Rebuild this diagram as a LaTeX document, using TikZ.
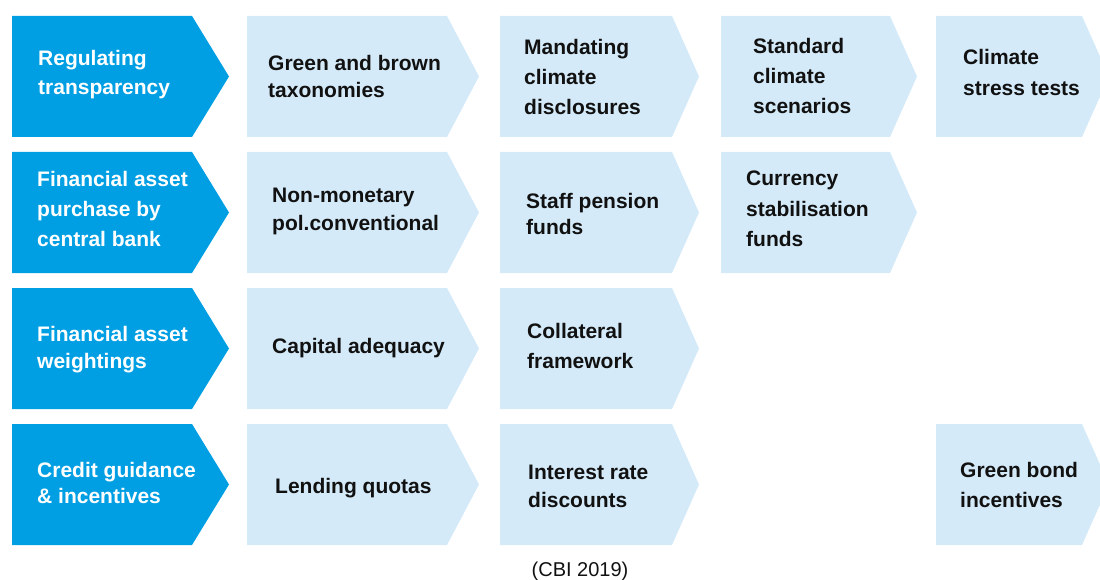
\documentclass[tikz,border=0pt]{standalone}
\usepackage{fontspec}
\setmainfont{Liberation Sans}
\definecolor{dk}{HTML}{009FE3}
\definecolor{lt}{HTML}{D4EAF9}
\definecolor{ink}{HTML}{111111}
\newcommand\lbl[2]{\fontsize{21}{#1}\selectfont\begin{tabular}[t]{@{}l@{}}#2\end{tabular}}
% #1 left x, #2 top y, #3 point start x, #4 tip x, #5 style
\newcommand\chev[5]{\fill[#5] (#1,#2) -- (#3,#2) -- (#4,{#2+60.5}) -- (#3,{#2+121}) -- (#1,{#2+121}) -- cycle;}
\begin{document}
\begin{tikzpicture}[x=1pt,y=-1pt,
  darkbox/.style={fill=dk},
  lightbox/.style={fill=lt},
  headtxt/.style={anchor=base west, inner sep=0pt, text=white, font=\bfseries},
  itemtxt/.style={anchor=base west, inner sep=0pt, text=ink, font=\bfseries},
  srctxt/.style={anchor=base, inner sep=0pt, text=ink, font=\fontsize{20}{24}\selectfont}]
\useasboundingbox (0,0) rectangle (1100,580);
\begin{scope}
\clip (0,0) rectangle (1100,580);
% row 1
\chev{12}{16}{192}{229}{darkbox}
\chev{247}{16}{447}{479}{lightbox}
\chev{500}{16}{672}{699}{lightbox}
\chev{721}{16}{890}{917}{lightbox}
\chev{936}{16}{1082}{1109}{lightbox}
% row 2
\chev{12}{152}{192}{229}{darkbox}
\chev{247}{152}{447}{479}{lightbox}
\chev{500}{152}{672}{699}{lightbox}
\chev{721}{152}{890}{917}{lightbox}
% row 3
\chev{12}{288}{192}{229}{darkbox}
\chev{247}{288}{447}{479}{lightbox}
\chev{500}{288}{672}{699}{lightbox}
% row 4
\chev{12}{424}{192}{229}{darkbox}
\chev{247}{424}{447}{479}{lightbox}
\chev{500}{424}{672}{699}{lightbox}
\chev{936}{424}{1082}{1109}{lightbox}
\end{scope}
% texts row 1
\node[headtxt] (h1) at (38,66) {\lbl{29}{Regulating\\transparency}};
\node[itemtxt] (a12) at (268,71) {\lbl{27}{Green and brown\\taxonomies}};
\node[itemtxt] (a13) at (524,55) {\lbl{30}{Mandating\\climate\\disclosures}};
\node[itemtxt] (a14) at (753,54) {\lbl{30}{Standard\\climate\\scenarios}};
\node[itemtxt] (a15) at (963,65) {\lbl{31}{Climate\\stress tests}};
% row 2
\node[headtxt] (h2) at (37,187) {\lbl{29.5}{Financial asset\\purchase by\\central bank}};
\node[itemtxt] (a22) at (272,203) {\lbl{28}{Non-monetary\\pol.conventional}};
\node[itemtxt] (a23) at (526,208) {\lbl{26}{Staff pension\\funds}};
\node[itemtxt] (a24) at (746,186) {\lbl{30}{Currency\\stabilisation\\funds}};
% row 3
\node[headtxt] (h3) at (37,341) {\lbl{27}{Financial asset\\weightings}};
\node[itemtxt] (a32) at (272,353) {\lbl{27}{Capital adequacy}};
\node[itemtxt] (a33) at (527,338) {\lbl{30}{Collateral\\framework}};
% row 4
\node[headtxt] (h4) at (37,477) {\lbl{26}{Credit guidance\\\& incentives}};
\node[itemtxt] (a42) at (275,493) {\lbl{27}{Lending quotas}};
\node[itemtxt] (a43) at (528,479) {\lbl{28}{Interest rate\\discounts}};
\node[itemtxt] (a45) at (960,477) {\lbl{30}{Green bond\\incentives}};
% source
\node[srctxt] (src) at (580,576) {(CBI 2019)};
\end{tikzpicture}
\end{document}
